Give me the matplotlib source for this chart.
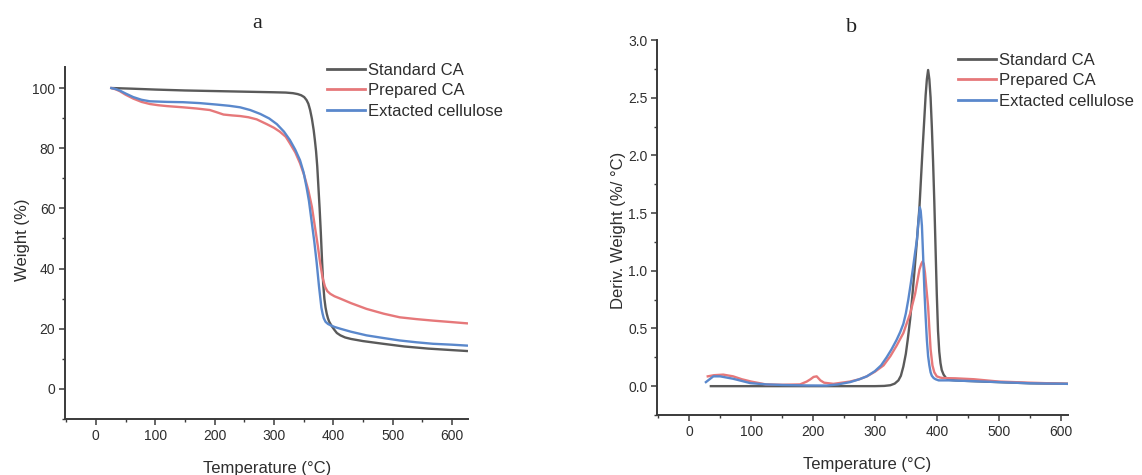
import matplotlib
matplotlib.use("Agg")
import matplotlib.pyplot as plt
from matplotlib.ticker import MultipleLocator, FormatStrFormatter

plt.rcParams['font.family'] = ['Liberation Sans', 'DejaVu Sans']

# ---------------- data ----------------
series_names = ["Standard CA", "Prepared CA", "Extacted cellulose"]
series_colors = ["#5a5a5a", "#e6787a", "#5a88cc"]

# TGA (panel a): temperature (°C) vs weight (%)
tga_std_T = [28, 60, 100, 150, 200, 250, 300, 320, 332, 340, 346, 351, 355, 358, 361, 364, 367, 369, 371, 373, 375, 377, 379, 381, 383, 385, 387, 389, 391, 393, 395, 398, 402, 406, 412, 420, 430, 450, 484, 520, 560, 600, 625]
tga_std_W = [100, 99.8, 99.5, 99.2, 99.0, 98.8, 98.6, 98.5, 98.3, 98.0, 97.6, 97.0, 96.0, 94.8, 92.7, 89.8, 86.0, 82.7, 79.0, 74.0, 67.0, 60.0, 52.0, 43.0, 35.0, 30.0, 27.0, 25.0, 23.5, 22.4, 21.7, 20.7, 19.6, 18.6, 17.8, 17.1, 16.6, 15.9, 15.0, 14.1, 13.4, 12.9, 12.6]

tga_prep_T = [26, 33, 40, 50, 63, 77, 91, 105, 120, 147, 170, 192, 203, 215, 230, 243, 257, 271, 288, 300, 310, 320, 327, 336, 344, 351, 358, 364, 369, 374, 378, 382, 386, 390, 395, 402, 412, 430, 456, 485, 512, 540, 568, 600, 625]
tga_prep_W = [100, 99.6, 99.0, 97.8, 96.5, 95.4, 94.7, 94.3, 94.0, 93.6, 93.2, 92.7, 92.0, 91.2, 90.9, 90.7, 90.3, 89.6, 88.0, 86.8, 85.5, 83.8, 81.6, 78.6, 75.0, 71.0, 66.0, 60.5, 54.0, 47.5, 41.7, 37.0, 34.0, 32.5, 31.6, 30.8, 30.0, 28.5, 26.6, 25.0, 23.8, 23.2, 22.7, 22.2, 21.8]

tga_ext_T = [26, 33, 40, 50, 63, 77, 91, 105, 120, 147, 175, 204, 225, 243, 260, 277, 292, 305, 317, 327, 336, 344, 350, 355, 359, 362, 365, 368, 370, 372, 374, 376, 378, 380, 382, 384, 387, 391, 395, 402, 412, 430, 456, 485, 512, 540, 568, 600, 625]
tga_ext_W = [100, 99.7, 99.2, 98.2, 97.0, 96.1, 95.6, 95.5, 95.4, 95.3, 95.0, 94.5, 94.1, 93.6, 92.7, 91.4, 89.9, 88.0, 85.5, 82.7, 79.5, 76.0, 72.0, 67.0, 62.5, 58.0, 53.5, 49.0, 45.5, 42.0, 38.0, 34.0, 30.5, 27.0, 25.0, 23.5, 22.3, 21.6, 21.2, 20.6, 20.0, 19.0, 17.8, 16.9, 16.1, 15.5, 15.0, 14.7, 14.4]

# DTG (panel b): temperature (°C) vs derivative weight (%/°C)
dtg_std_T = [35, 100, 200, 300, 315, 325, 332, 338, 342, 346, 350, 353, 357, 360, 364, 368, 372, 375, 377, 380, 382, 384, 386, 388, 390, 392, 394, 396, 398, 400, 402, 404, 406, 408, 411, 415, 420, 430, 450, 500, 550, 612]
dtg_std_V = [0.0, 0.0, 0.0, 0.0, 0.002, 0.008, 0.022, 0.05, 0.09, 0.17, 0.28, 0.40, 0.58, 0.75, 1.0, 1.27, 1.55, 1.85, 2.05, 2.33, 2.52, 2.66, 2.74, 2.66, 2.50, 2.25, 1.95, 1.60, 1.20, 0.80, 0.48, 0.30, 0.20, 0.14, 0.10, 0.07, 0.055, 0.05, 0.045, 0.035, 0.025, 0.02]

dtg_prep_T = [30, 40, 55, 71, 85, 100, 124, 150, 179, 190, 196, 201, 206, 212, 218, 233, 260, 275, 287, 300, 314, 325, 335, 346, 357, 365, 369, 372, 375, 377, 379, 381, 383, 386, 388, 390, 393, 396, 400, 405, 410, 430, 460, 500, 550, 612]
dtg_prep_V = [0.085, 0.095, 0.10, 0.085, 0.06, 0.04, 0.015, 0.012, 0.015, 0.04, 0.06, 0.08, 0.085, 0.05, 0.03, 0.02, 0.04, 0.06, 0.085, 0.125, 0.18, 0.26, 0.35, 0.46, 0.63, 0.80, 0.92, 1.01, 1.06, 1.08, 1.06, 0.98, 0.86, 0.69, 0.50, 0.32, 0.18, 0.12, 0.085, 0.075, 0.07, 0.068, 0.06, 0.04, 0.03, 0.02]

dtg_ext_T = [27, 33, 39, 50, 60, 71, 85, 99, 125, 152, 190, 222, 240, 260, 275, 287, 300, 310, 319, 327, 335, 341, 346, 350, 354, 358, 362, 365, 368, 370, 372.6, 374, 376, 378, 380, 382, 384, 386, 388, 390, 392, 395, 398, 403, 420, 450, 500, 550, 612]
dtg_ext_V = [0.035, 0.06, 0.085, 0.085, 0.075, 0.064, 0.045, 0.026, 0.015, 0.01, 0.006, 0.005, 0.015, 0.035, 0.06, 0.085, 0.13, 0.18, 0.25, 0.32, 0.40, 0.47, 0.54, 0.63, 0.75, 0.89, 1.04, 1.16, 1.27, 1.40, 1.55, 1.52, 1.39, 1.12, 0.83, 0.60, 0.40, 0.26, 0.18, 0.12, 0.09, 0.07, 0.06, 0.05, 0.05, 0.045, 0.035, 0.025, 0.02]

x_ticks = [0, 100, 200, 300, 400, 500, 600]
a_y_ticks = [0, 20, 40, 60, 80, 100]
b_y_ticks = [0.0, 0.5, 1.0, 1.5, 2.0, 2.5, 3.0]

# ---------------- figure ----------------
W, H = 1142, 475
fig = plt.figure(figsize=(W / 100, H / 100), dpi=100)
fig.patch.set_facecolor("white")

def px_axes(l, t, r, b):
    return fig.add_axes([l / W, 1 - b / H, (r - l) / W, (b - t) / H])

ax_a = px_axes(65, 67, 468, 419)
ax_b = px_axes(657, 40, 1068, 415)

txt_col = "#2e2e2e"
for ax in (ax_a, ax_b):
    for s in ("top", "right"):
        ax.spines[s].set_visible(False)
    for s in ("left", "bottom"):
        ax.spines[s].set_color("#3a3a3a")
        ax.spines[s].set_linewidth(1.4)
    ax.tick_params(which="major", direction="out", length=4, width=1.1,
                   color="#3a3a3a", labelcolor=txt_col, labelsize=10, pad=3)
    ax.tick_params(which="minor", direction="out", length=2.5, width=1.0, color="#3a3a3a")
    ax.xaxis.set_minor_locator(MultipleLocator(50))
    ax.set_xticks(x_ticks)

lw = 1.7
# panel a
ax_a.plot(tga_std_T, tga_std_W, color=series_colors[0], lw=lw, label=series_names[0])
ax_a.plot(tga_prep_T, tga_prep_W, color=series_colors[1], lw=lw, label=series_names[1])
ax_a.plot(tga_ext_T, tga_ext_W, color=series_colors[2], lw=lw, label=series_names[2])
ax_a.set_xlim(-52, 627)
ax_a.set_ylim(-10, 107)
ax_a.set_yticks(a_y_ticks)
ax_a.yaxis.set_minor_locator(MultipleLocator(10))

# panel b
ax_b.plot(dtg_std_T, dtg_std_V, color=series_colors[0], lw=lw, label=series_names[0])
ax_b.plot(dtg_prep_T, dtg_prep_V, color=series_colors[1], lw=lw, label=series_names[1])
ax_b.plot(dtg_ext_T, dtg_ext_V, color=series_colors[2], lw=lw, label=series_names[2])
ax_b.set_xlim(-52, 612)
ax_b.set_ylim(-0.25, 3.0)
ax_b.set_yticks(b_y_ticks)
ax_b.yaxis.set_major_formatter(FormatStrFormatter("%.1f"))
ax_b.yaxis.set_minor_locator(MultipleLocator(0.25))

# axis labels
ax_a.set_xlabel("Temperature (°C)", fontsize=12, color=txt_col)
ax_a.xaxis.set_label_coords(0.501, -0.118)
ax_a.set_ylabel("Weight (%)", fontsize=12, color=txt_col)
ax_a.yaxis.set_label_coords(-0.088, 0.51)

ax_b.set_xlabel("Temperature (°C)", fontsize=12, color=txt_col)
ax_b.xaxis.set_label_coords(0.511, -0.112)
ax_b.set_ylabel("Deriv. Weight (%/ °C)", fontsize=12, color=txt_col)
ax_b.yaxis.set_label_coords(-0.076, 0.493)

# panel titles
fig.text(257 / W, 1 - 23 / H, "a", family=["Liberation Serif", "DejaVu Serif"],
         fontsize=16, color="#222222", ha="center", va="center")
fig.text(852 / W, 1 - 28 / H, "b", family=["Liberation Serif", "DejaVu Serif"],
         fontsize=16, color="#222222", ha="center", va="center")

# legends
leg_kw = dict(frameon=False, fontsize=12, handlelength=2.25, handletextpad=0.2,
              labelspacing=0.32, borderpad=0, borderaxespad=0, loc="upper left")
la = ax_a.legend(bbox_to_anchor=(327 / W, 1 - 63 / H), bbox_transform=fig.transFigure, **leg_kw)
lb = ax_b.legend(bbox_to_anchor=(958 / W, 1 - 53 / H), bbox_transform=fig.transFigure, **leg_kw)
for lg in (la, lb):
    for t in lg.get_texts():
        t.set_color(txt_col)
    for h in lg.get_lines():
        h.set_linewidth(2.0)
    lg.set_clip_on(False)

fig.savefig("out.png", dpi=100)
